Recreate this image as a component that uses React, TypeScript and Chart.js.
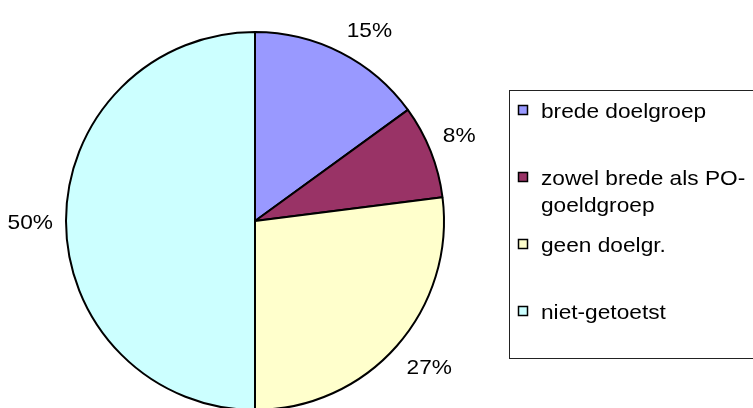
import React, { useEffect, useRef } from "react";
import { Chart, registerables } from "chart.js";

Chart.register(...registerables);

const categories = ["brede doelgroep", "zowel brede als PO-goeldgroep", "geen doelgr.", "niet-getoetst"];
const shares = [15, 8, 27, 50];
const colors = ["#9999FF", "#993366", "#FFFFCC", "#CCFFFF"];

const FONT = '"Liberation Sans", Arial, sans-serif';
const FONT_SIZE = 21;
const STRETCH = 1.08;
const CAP = 0.716 * FONT_SIZE;

function drawText(ctx: CanvasRenderingContext2D, text: string, x: number, cy: number, align: "left" | "center") {
  const w = ctx.measureText(text).width * STRETCH;
  const x0 = align === "center" ? x - w / 2 : x;
  ctx.save();
  ctx.translate(x0, cy + CAP / 2);
  ctx.scale(STRETCH, 1);
  ctx.textAlign = "left";
  ctx.textBaseline = "alphabetic";
  ctx.fillText(text, 0, 0);
  ctx.restore();
}

function wrap(ctx: CanvasRenderingContext2D, text: string, maxW: number): string[] {
  const tokens = text.match(/[^\s-]+-?|\s+/g) || [text];
  const lines: string[] = [];
  let cur = "";
  for (const t of tokens) {
    const next = cur + t;
    if (cur.trim() && ctx.measureText(next.trimEnd()).width * STRETCH > maxW) {
      lines.push(cur.trimEnd());
      cur = t.trimStart();
    } else {
      cur = next;
    }
  }
  if (cur.trim()) lines.push(cur.trimEnd());
  return lines;
}

const clamp1 = (v: number) => Math.max(-1, Math.min(1, v));

const pctLabels = {
  id: "pctLabels",
  afterDatasetsDraw(chart: any) {
    const ctx = chart.ctx as CanvasRenderingContext2D;
    const meta = chart.getDatasetMeta(0);
    const total = shares.reduce((a, b) => a + b, 0);
    ctx.save();
    ctx.font = `${FONT_SIZE}px ${FONT}`;
    ctx.fillStyle = "#000";
    meta.data.forEach((arc: any, i: number) => {
      const p = arc.getProps(["x", "y", "startAngle", "endAngle", "outerRadius"], true);
      const mid = (p.startAngle + p.endAngle) / 2;
      const text = Math.round((shares[i] / total) * 100) + "%";
      const w = ctx.measureText(text).width * STRETCH;
      const c = Math.cos(mid);
      const s = Math.sin(mid);
      const d = p.outerRadius + 13;
      const ax = p.x + c * d;
      const ay = p.y + s * d;
      const cx = ax + clamp1(c * 5) * (w / 2);
      const cy = ay + clamp1(s * 5) * 12;
      drawText(ctx, text, cx, cy, "center");
    });
    ctx.restore();
  },
};

const boxLegend = {
  id: "boxLegend",
  afterDraw(chart: any) {
    const ctx = chart.ctx as CanvasRenderingContext2D;
    const left = 509;
    const top = 90;
    const width = 270;
    const height = 268;
    ctx.save();
    ctx.strokeStyle = "#222";
    ctx.lineWidth = 1;
    ctx.strokeRect(left + 0.5, top + 0.5, width, height);
    ctx.font = `${FONT_SIZE}px ${FONT}`;
    const slot = height / categories.length;
    categories.forEach((label, i) => {
      const y0 = top + slot * i + 20;
      const sy = Math.round(y0 - 5);
      ctx.fillStyle = colors[i];
      ctx.fillRect(518, sy, 10, 10);
      ctx.strokeStyle = "#000";
      ctx.lineWidth = 1.5;
      ctx.strokeRect(518.5, sy + 0.5, 9, 9);
      ctx.fillStyle = "#000";
      const lines = wrap(ctx, label, 214);
      lines.forEach((ln, j) => drawText(ctx, ln, 541, y0 + j * 27, "left"));
    });
    ctx.restore();
  },
};

export default function App() {
  const ref = useRef<HTMLCanvasElement | null>(null);
  useEffect(() => {
    if (!ref.current) return;
    const chart = new Chart(ref.current, {
      type: "pie",
      data: {
        labels: categories,
        datasets: [
          {
            data: shares,
            backgroundColor: colors,
            borderColor: "#000",
            borderWidth: 2,
          },
        ],
      },
      options: {
        responsive: false,
        animation: false,
        radius: 189,
        layout: { padding: { left: 66, right: 309, top: 32, bottom: 20 } },
        plugins: { legend: { display: false }, tooltip: { enabled: false } },
      } as any,
      plugins: [pctLabels, boxLegend],
    });
    return () => chart.destroy();
  }, []);
  return (
    <div style={{ position: "fixed", left: 0, top: 0, width: 753, height: 408, overflow: "hidden", background: "#fff" }}>
      <canvas ref={ref} width={753} height={430} style={{ display: "block", width: 753, height: 430 }} />
    </div>
  );
}
